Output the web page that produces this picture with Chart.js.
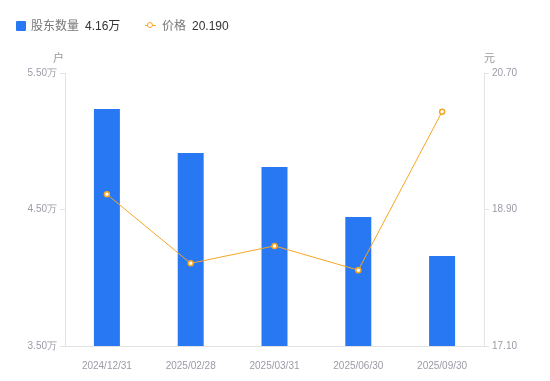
<!DOCTYPE html>
<html>
<head>
<meta charset="utf-8">
<script src="https://cdn.jsdelivr.net/npm/chart.js@4/dist/chart.umd.min.js"></script>
<style>
  body{margin:0;background:#fff;font-family:"Liberation Sans","Noto Sans CJK SC",sans-serif;}
  #wrap{position:relative;width:550px;height:381px;}
  #c{position:absolute;left:0;top:0;}
  .lg{position:absolute;top:16px;font-size:12px;color:#777;white-space:nowrap;}
  .lg b{font-weight:normal;color:#333;margin-left:6px;}
  .unit{position:absolute;top:49px;font-size:11px;color:#999;font-family:"Noto Sans CJK SC",sans-serif;}
</style>
</head>
<body>
<div id="wrap">
  <canvas id="c" width="550" height="381"></canvas>
  <div class="lg" style="left:16px"><span style="display:inline-block;width:10px;height:10px;background:#2878f4;border-radius:1px;margin-right:5px;vertical-align:-1px"></span>股东数量<b>4.16万</b></div>
  <div class="lg" style="left:145px"><span style="display:inline-block;position:relative;width:11px;height:10px;margin-right:6px;vertical-align:-1px"><span style="position:absolute;left:0;top:4px;width:11px;height:1px;background:#f5a623"></span><span style="position:absolute;left:2px;top:1px;width:4px;height:4px;border:1.5px solid #f5a623;border-radius:50%;background:#fff"></span></span>价格<b>20.190</b></div>
  <div class="unit" style="left:53px">户</div>
  <div class="unit" style="left:484px">元</div>
</div>
<script>
const dates = ['2024/12/31','2025/02/28','2025/03/31','2025/06/30','2025/09/30'];
const holders = [5.236, 4.914, 4.811, 4.445, 4.16];
const prices = [19.10, 18.19, 18.42, 18.10, 20.19];
const holderTicks = [3.5, 5.5, 1];
const priceTicks = [17.1, 20.7, 1.8];

const axisGray = '#e3e3e3';
const tickFont = { family:'"Liberation Sans", Arial, sans-serif', size:10 };
const tickColor = '#9b9ba8';

new Chart(document.getElementById('c'), {
  data: {
    labels: dates,
    datasets: [
      { type:'bar', label:'股东数量', data:holders, yAxisID:'y', backgroundColor:'#2878f4',
        categoryPercentage:1, barPercentage:0.31, order:2 },
      { type:'line', label:'价格', data:prices, yAxisID:'y1', borderColor:'#f5a623', borderWidth:1,
        pointRadius:2.5, pointBorderWidth:1.5, pointBackgroundColor:'#fff', pointBorderColor:'#f5a623',
        tension:0, order:1 }
    ]
  },
  options: {
    responsive:false, animation:false,
    layout:{ padding:{ top:73, left:0, right:0, bottom:0 } },
    plugins:{ legend:{display:false}, tooltip:{enabled:false} },
    scales:{
      x:{
        grid:{ display:false },
        border:{ color:axisGray },
        ticks:{ color:tickColor, font:tickFont, padding:6, maxRotation:0 },
        afterFit(s){ s.height = 35; }
      },
      y:{
        position:'left', min:holderTicks[0], max:holderTicks[1],
        ticks:{ stepSize:holderTicks[2], color:tickColor, font:tickFont, padding:3,
          callback:v => v.toFixed(2) + '万' },
        grid:{ drawOnChartArea:false, tickLength:5, color:axisGray },
        border:{ color:axisGray },
        afterFit(s){ s.width = 65; }
      },
      y1:{
        position:'right', min:priceTicks[0], max:priceTicks[1],
        ticks:{ stepSize:priceTicks[2], color:tickColor, font:tickFont, padding:3,
          callback:v => v.toFixed(2) },
        grid:{ drawOnChartArea:false, tickLength:5, color:axisGray },
        border:{ color:axisGray },
        afterFit(s){ s.width = 66; }
      }
    }
  }
});
</script>
</body>
</html>
